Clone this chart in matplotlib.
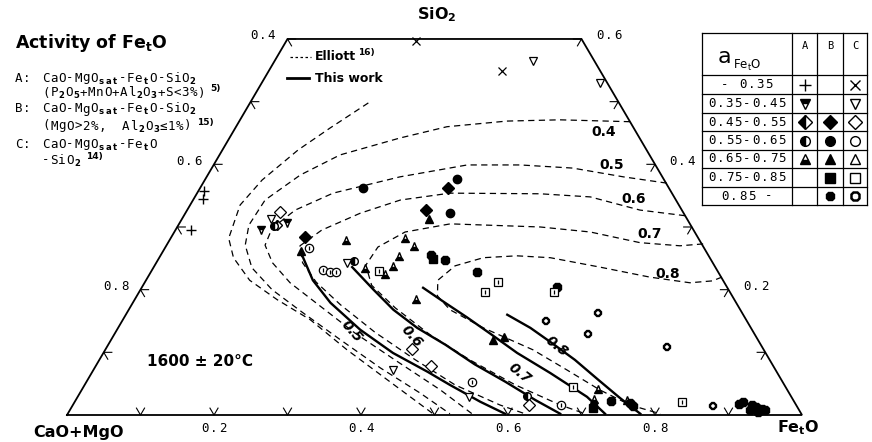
import matplotlib
matplotlib.use('Agg')
import matplotlib.pyplot as plt

plt.rcParams['mathtext.default'] = 'regular'
MONO = 'DejaVu Sans Mono'
SANS = 'DejaVu Sans'

# --- data: (Fe_tO, SiO2) mass fractions, CaO+MgO = rest ---
classes = ['- 0.35', '0.35-0.45', '0.45-0.55', '0.55-0.65', '0.65-0.75', '0.75-0.85', '0.85 -']
symbols = ['+', 'v', 'D', 'o', '^', 's', '8']

# A: CaO-MgOsat-FetO-SiO2 (ref 5)
A_035 = [(0.007, 0.358), (0.013, 0.344), (0.021, 0.295)]
A_040 = [(0.146, 0.307), (0.117, 0.295)]
A_050 = [(0.134, 0.303)]
A_060 = [(0.130, 0.302), (0.268, 0.246), (0.611, 0.031)]
A_070 = [(0.239, 0.280), (0.319, 0.283), (0.338, 0.269), (0.325, 0.254), (0.325, 0.238),
         (0.288, 0.234), (0.320, 0.225), (0.382, 0.185), (0.702, 0.041), (0.705, 0.025),
         (0.750, 0.024)]

# B: MgO>2%, Al2O3<=1% (ref 15)
B_050 = [(0.337, 0.363), (0.325, 0.327), (0.182, 0.284)]
B_060 = [(0.222, 0.362), (0.342, 0.377), (0.359, 0.323)]
B_070 = [(0.337, 0.312), (0.188, 0.261), (0.520, 0.119), (0.533, 0.124)]
B_080 = [(0.374, 0.249), (0.710, 0.011)]
B_090 = [(0.368, 0.255), (0.391, 0.247), (0.444, 0.228), (0.564, 0.205), (0.728, 0.023),
         (0.757, 0.019), (0.763, 0.014), (0.910, 0.020), (0.905, 0.018), (0.924, 0.016),
         (0.931, 0.013), (0.941, 0.009), (0.946, 0.008), (0.925, 0.008), (0.938, 0.005)]

# C: CaO-MgOsat-FetO-SiO2 (ref 14)
C_030 = [(0.177, 0.597), (0.317, 0.549)]
C_040 = [(0.352, 0.565), (0.461, 0.529), (0.121, 0.313), (0.260, 0.243), (0.408, 0.072),
         (0.533, 0.028)]
C_050 = [(0.128, 0.324), (0.417, 0.105), (0.456, 0.078), (0.620, 0.016)]
C_060 = [(0.196, 0.267), (0.233, 0.231), (0.244, 0.228), (0.252, 0.228), (0.524, 0.053),
         (0.664, 0.016)]
C_080 = [(0.310, 0.230), (0.480, 0.212), (0.471, 0.196), (0.565, 0.196), (0.666, 0.044),
         (0.827, 0.020)]
C_090 = [(0.577, 0.150), (0.641, 0.162), (0.645, 0.129), (0.763, 0.108), (0.871, 0.015)]

# iso-activity lines of Fe_tO, Elliott (dashed)
elliott_outer = [(0.161, 0.498), (0.129, 0.458), (0.103, 0.423), (0.078, 0.375), (0.068, 0.335),
                 (0.079, 0.282), (0.101, 0.251), (0.141, 0.215), (0.194, 0.184), (0.255, 0.152),
                 (0.329, 0.104), (0.408, 0.056), (0.497, 0.002)]
elliott_04 = [(0.532, 0.468), (0.435, 0.471), (0.364, 0.469), (0.287, 0.460), (0.232, 0.442),
              (0.164, 0.415), (0.126, 0.383), (0.098, 0.343), (0.096, 0.303), (0.107, 0.271),
              (0.134, 0.235), (0.179, 0.200), (0.238, 0.164), (0.312, 0.120), (0.389, 0.075),
              (0.463, 0.035), (0.520, 0.002)]
elliott_05 = [(0.631, 0.370), (0.567, 0.380), (0.491, 0.394), (0.417, 0.399), (0.345, 0.399),
              (0.263, 0.380), (0.185, 0.354), (0.147, 0.327), (0.130, 0.298), (0.134, 0.271),
              (0.158, 0.243), (0.198, 0.211), (0.254, 0.176), (0.326, 0.131), (0.402, 0.088),
              (0.488, 0.040), (0.550, 0.002)]
elliott_06 = [(0.682, 0.318), (0.616, 0.327), (0.538, 0.348), (0.467, 0.353), (0.344, 0.354),
              (0.282, 0.343), (0.238, 0.322), (0.199, 0.295), (0.182, 0.270), (0.199, 0.243),
              (0.233, 0.212), (0.284, 0.176), (0.353, 0.132), (0.430, 0.088), (0.504, 0.048),
              (0.581, 0.016), (0.622, 0.002)]
elliott_07 = [(0.729, 0.273), (0.699, 0.270), (0.642, 0.275), (0.566, 0.292), (0.494, 0.300),
              (0.369, 0.305), (0.314, 0.292), (0.289, 0.268), (0.287, 0.239), (0.311, 0.207),
              (0.361, 0.171), (0.430, 0.128), (0.504, 0.088), (0.586, 0.048), (0.663, 0.016),
              (0.704, 0.002)]
elliott_08 = [(0.781, 0.220), (0.771, 0.214), (0.742, 0.211), (0.683, 0.220), (0.607, 0.236),
              (0.532, 0.251), (0.485, 0.254), (0.441, 0.251), (0.409, 0.238), (0.397, 0.215),
              (0.409, 0.190), (0.437, 0.168), (0.497, 0.139), (0.582, 0.104), (0.644, 0.072),
              (0.705, 0.040), (0.758, 0.016), (0.806, 0.002)]
elliott = [elliott_outer, elliott_04, elliott_05, elliott_06, elliott_07, elliott_08]

# this work (solid)
this_05 = [(0.188, 0.260), (0.227, 0.215), (0.269, 0.179), (0.331, 0.136), (0.394, 0.099),
           (0.456, 0.069), (0.497, 0.048), (0.552, 0.021), (0.595, 0.002)]
this_06 = [(0.270, 0.236), (0.317, 0.200), (0.360, 0.168), (0.407, 0.139), (0.459, 0.112),
           (0.514, 0.081), (0.570, 0.053), (0.625, 0.024), (0.670, 0.002)]
this_07 = [(0.383, 0.203), (0.425, 0.179), (0.466, 0.156), (0.514, 0.128), (0.563, 0.099),
           (0.624, 0.067), (0.693, 0.029), (0.731, 0.002)]
this_08 = [(0.519, 0.160), (0.561, 0.139), (0.602, 0.115), (0.647, 0.088), (0.695, 0.056),
           (0.739, 0.027), (0.779, 0.002)]
this_work = [this_05, this_06, this_07, this_08]

elliott_labels = ['0.4', '0.5', '0.6', '0.7', '0.8']
this_labels = ['0.5', '0.6', '0.7', '0.8']

feo_ticks = [0.2, 0.4, 0.6, 0.8]
sio2_ticks = [0.6, 0.4, 0.2]
cao_ticks = [0.4, 0.6, 0.8]


def tern(pts):
    xs = [fe + si / 2 for fe, si in pts]
    ys = [si for fe, si in pts]
    return xs, ys


fig = plt.figure(figsize=(8.72, 4.42), dpi=100)
ax = fig.add_axes([0, 0, 1, 1])
ax.set_xlim(-67 / 735, 805 / 735)
ax.set_ylim(-27 / 626.7, 415 / 626.7)
ax.axis('off')

# layout axes in pixels for texts and the symbol table
lay = fig.add_axes([0, 0, 1, 1], facecolor='none')
lay.set_xlim(0, 872)
lay.set_ylim(442, 0)
lay.axis('off')


def plotter(x, y, runs, pitch=8.0, size=9, ha='left'):
    # plotter-like lettering: one glyph per cell, subscripts smaller and lower
    cells = []
    for txt, kind in runs:
        for ch in txt:
            cells.append((ch, kind))
    step = {'n': pitch, 'sub': pitch * 0.85, 'sup': pitch * 0.8}
    width = sum(step[k] for _, k in cells)
    cx = x - width / 2 if ha == 'center' else x
    for ch, kind in cells:
        w = step[kind]
        if ch != ' ':
            if kind == 'n':
                lay.text(cx + w / 2, y, ch, family=MONO, fontsize=size, ha='center', va='center')
            elif kind == 'sub':
                lay.text(cx + w / 2, y + 3, ch, family=SANS, fontsize=size * 0.68,
                         fontweight='bold', ha='center', va='center')
            else:
                lay.text(cx + w / 2, y - 5, ch, family=SANS, fontsize=size * 0.7,
                         fontweight='bold', ha='center', va='center')
        cx += w
    return cx


# triangle, truncated at SiO2 = 0.6
ex, ey = tern([(0, 0), (1, 0), (0.4, 0.6), (0, 0.6), (0, 0)])
ax.plot(ex, ey, color='k', lw=1.3, solid_joinstyle='miter')

# chevron ticks every 0.1
s = 0.011
for i in range(1, 10):
    x = i / 10
    ax.plot([x - s / 2, x, x + s / 2], [s, 0, s], color='k', lw=0.8)
for i in range(1, 7):
    si = i / 10
    x = si / 2
    ax.plot([x + s, x, x + s / 2], [si, si, si - s], color='k', lw=0.8)
    x = 1 - si / 2
    ax.plot([x - s, x, x - s / 2], [si, si, si - s], color='k', lw=0.8)

# tick labels
for v in feo_ticks:
    plotter(67 + 735 * v, 429, [(f'{v:.1f}', 'n')], pitch=9, ha='center')
for v in sio2_ticks:
    plotter(67 + 735 * (1 - v / 2) + 27, 415 - 626.7 * v - 3, [(f'{v:.1f}', 'n')], pitch=9, ha='center')
for v in cao_ticks:
    si = 1 - v
    plotter(67 + 735 * si / 2 - 25, 415 - 626.7 * si - 3, [(f'{v:.1f}', 'n')], pitch=9, ha='center')

# iso-activity lines
for pts in elliott:
    x, y = tern(pts)
    ax.plot(x, y, color='k', lw=0.9, ls=(0, (5, 3.5)))
for pts in this_work:
    x, y = tern(pts)
    ax.plot(x, y, color='k', lw=1.7)

for lab, (px, py) in zip(elliott_labels, [(604, 132), (612, 165), (634, 199), (650, 234), (668, 274)]):
    lay.text(px, py, lab, family=SANS, fontweight='bold', fontsize=10, ha='center', va='center')
for lab, (px, py, r) in zip(this_labels, [(352, 331, -48), (412, 336, -48), (520, 373, -38), (557, 346, -38)]):
    lay.text(px, py, lab, family=SANS, fontweight='bold', fontsize=10, ha='center', va='center',
             rotation=r, style='italic')

# data points
A_sets = [A_035, A_040, A_050, A_060, A_070]
A_fill = ['full', 'top', 'left', 'left', 'bottom']
for pts, sym, fs in zip(A_sets, symbols, A_fill):
    x, y = tern(pts)
    ax.plot(x, y, ls='none', marker=sym, ms=5.5 if sym != '+' else 7, color='k', mec='k',
            fillstyle=fs, markerfacecoloralt='white', mew=1)

B_sets = [B_050, B_060, B_070, B_080, B_090]
for pts, sym in zip(B_sets, symbols[2:]):
    x, y = tern(pts)
    ax.plot(x, y, ls='none', marker=sym, ms=6, color='k', mec='k')

C_sets = [C_030, C_040, C_050, C_060, C_080, C_090]
C_syms = ['x', 'v', 'D', 'o', 's', '8']
for pts, sym in zip(C_sets, C_syms):
    x, y = tern(pts)
    ax.plot(x, y, ls='none', marker=sym, ms=6 if sym != '8' else 5,
            mfc='white', mec='k', mew=1.7 if sym == '8' else 0.9)
# plotted circles and squares carry a small pen mark at the centre
for pts in [C_060, C_080]:
    x, y = tern(pts)
    ax.plot(x, y, ls='none', marker='|', ms=3, mec='k', mew=0.9)

# corner labels
lay.text(437, 15, 'SiO$_2$', family=SANS, fontweight='bold', fontsize=11.5, ha='center', va='center')
lay.text(78, 433, 'CaO+MgO', family=SANS, fontweight='bold', fontsize=11.5, ha='center', va='center')
lay.text(798, 428, 'Fe$_t$O', family=SANS, fontweight='bold', fontsize=11.5, ha='center', va='center')
lay.text(200, 361, '1600 ± 20°C', family=SANS, fontweight='bold', fontsize=11, ha='center', va='center')

# title and notes
lay.text(15, 43, 'Activity of Fe$_t$O', family=SANS, fontweight='bold', fontsize=12.5, va='center')
notes = [('A:', [('CaO-MgO', 'n'), ('sat', 'sub'), ('-Fe', 'n'), ('t', 'sub'), ('O-SiO', 'n'), ('2', 'sub')], ''),
         ('', [('(P', 'n'), ('2', 'sub'), ('O', 'n'), ('5', 'sub'), ('+MnO+Al', 'n'), ('2', 'sub'),
               ('O', 'n'), ('3', 'sub'), ('+S<3%)', 'n')], '5)'),
         ('B:', [('CaO-MgO', 'n'), ('sat', 'sub'), ('-Fe', 'n'), ('t', 'sub'), ('O-SiO', 'n'), ('2', 'sub')], ''),
         ('', [('(MgO>2%,  Al', 'n'), ('2', 'sub'), ('O', 'n'), ('3', 'sub'), ('≤1%)', 'n')], '15)'),
         ('C:', [('CaO-MgO', 'n'), ('sat', 'sub'), ('-Fe', 'n'), ('t', 'sub'), ('O', 'n')], ''),
         ('', [('-SiO', 'n'), ('2', 'sub')], '14)')]
for (head, body, ref), py in zip(notes, [78, 93, 109, 126, 144, 160]):
    if head:
        plotter(15, py, [(head, 'n')])
    end = plotter(42, py, body)
    if ref:
        lay.text(end + 5, py - 4, ref, family=SANS, fontweight='bold', fontsize=6.5, va='center')

# line legend
lay.plot([290, 311], [57, 57], color='k', lw=0.9, ls=(0, (2, 2)))
lay.text(315, 57, 'Elliott', family=SANS, fontweight='bold', fontsize=9, va='center')
lay.text(358, 53, '16)', family=SANS, fontweight='bold', fontsize=6.5, va='center')
lay.plot([287, 309], [78, 78], color='k', lw=2)
lay.text(315, 78, 'This work', family=SANS, fontweight='bold', fontsize=9, va='center')

# symbol table
cols = [702, 792, 817, 843, 867]
rows = [33, 75, 94, 113, 131, 150, 168, 187, 205]
for c in cols:
    lay.plot([c, c], [rows[0], rows[-1]], color='k', lw=0.9)
for r in rows:
    lay.plot([cols[0], cols[-1]], [r, r], color='k', lw=0.9)
lay.text(724, 57, 'a', family=SANS, fontsize=16, ha='center', va='center')
lay.text(733, 65, 'Fe$_t$O', family=SANS, fontsize=8.5, ha='left', va='center')
for lab, cx in zip(['A', 'B', 'C'], [804.5, 830, 855]):
    lay.text(cx, 46, lab, family=MONO, fontsize=7.5, ha='center', va='center')

A_cells = ['+', 'v', 'D', 'o', '^', None, None]
B_cells = [None, None, 'D', 'o', '^', 's', '8']
C_cells = ['x', 'v', 'D', 'o', '^', 's', '8']
for i, lab in enumerate(classes):
    cy = (rows[i + 1] + rows[i + 2]) / 2
    plotter(747, cy, [(lab, 'n')], pitch=8.8, ha='center')
    if A_cells[i]:
        lay.plot(804.5, cy, marker=A_cells[i], ms=7 if i else 8, color='k', mec='k',
                 fillstyle=['full', 'top', 'left', 'left', 'bottom'][i], markerfacecoloralt='white')
    if B_cells[i]:
        lay.plot(830, cy, marker=B_cells[i], ms=7, color='k')
    if C_cells[i]:
        lay.plot(855, cy, marker=C_cells[i], ms=7 if i < 6 else 6, mfc='white', mec='k',
                 mew=1.8 if i == 6 else 1)

fig.savefig('out.png', dpi=100)
